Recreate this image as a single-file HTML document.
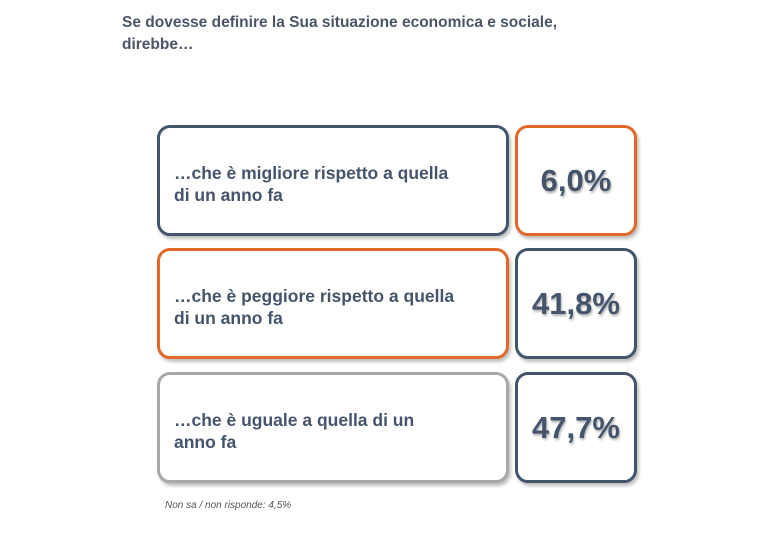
<!DOCTYPE html>
<html><head><meta charset="utf-8"><style>
body{margin:0;width:780px;height:534px;background:#fff;position:relative;overflow:hidden;font-family:"Liberation Sans","DejaVu Sans",sans-serif;color:#44546a}
.t{position:absolute;left:122px;top:12px;font-size:15.5px;font-weight:bold;line-height:22px;color:#4a5668}
.b{position:absolute;box-sizing:border-box;border:3px solid #44546a;border-radius:13px;background:#fff;box-shadow:2px 3px 3px rgba(0,0,0,0.25)}
.l{left:157px;width:352px;height:111px;padding:34px 0 0 14px;font-size:17.5px;font-weight:bold;line-height:22px}
.r{left:515px;width:122px;height:111px;font-size:31px;font-weight:bold;text-align:center;line-height:105px;text-shadow:1px 2px 2px rgba(0,0,0,0.3)}
.o{border-color:#e2682a}.g{border-color:#a8a8a8}
.n{position:absolute;left:165px;top:500px;font-size:10px;font-style:italic;color:#555}
</style></head><body>
<div class="t">Se dovesse definire la Sua situazione economica e sociale,<br>direbbe…</div>
<div class="b l" style="top:125px">…che è migliore rispetto a quella<br>di un anno fa</div>
<div class="b r o" style="top:125px">6,0%</div>
<div class="b l o" style="top:248px">…che è peggiore rispetto a quella<br>di un anno fa</div>
<div class="b r" style="top:248px">41,8%</div>
<div class="b l g" style="top:372px">…che è uguale a quella di un<br>anno fa</div>
<div class="b r" style="top:372px">47,7%</div>
<div class="n">Non sa / non risponde: 4,5%</div>
</body></html>
